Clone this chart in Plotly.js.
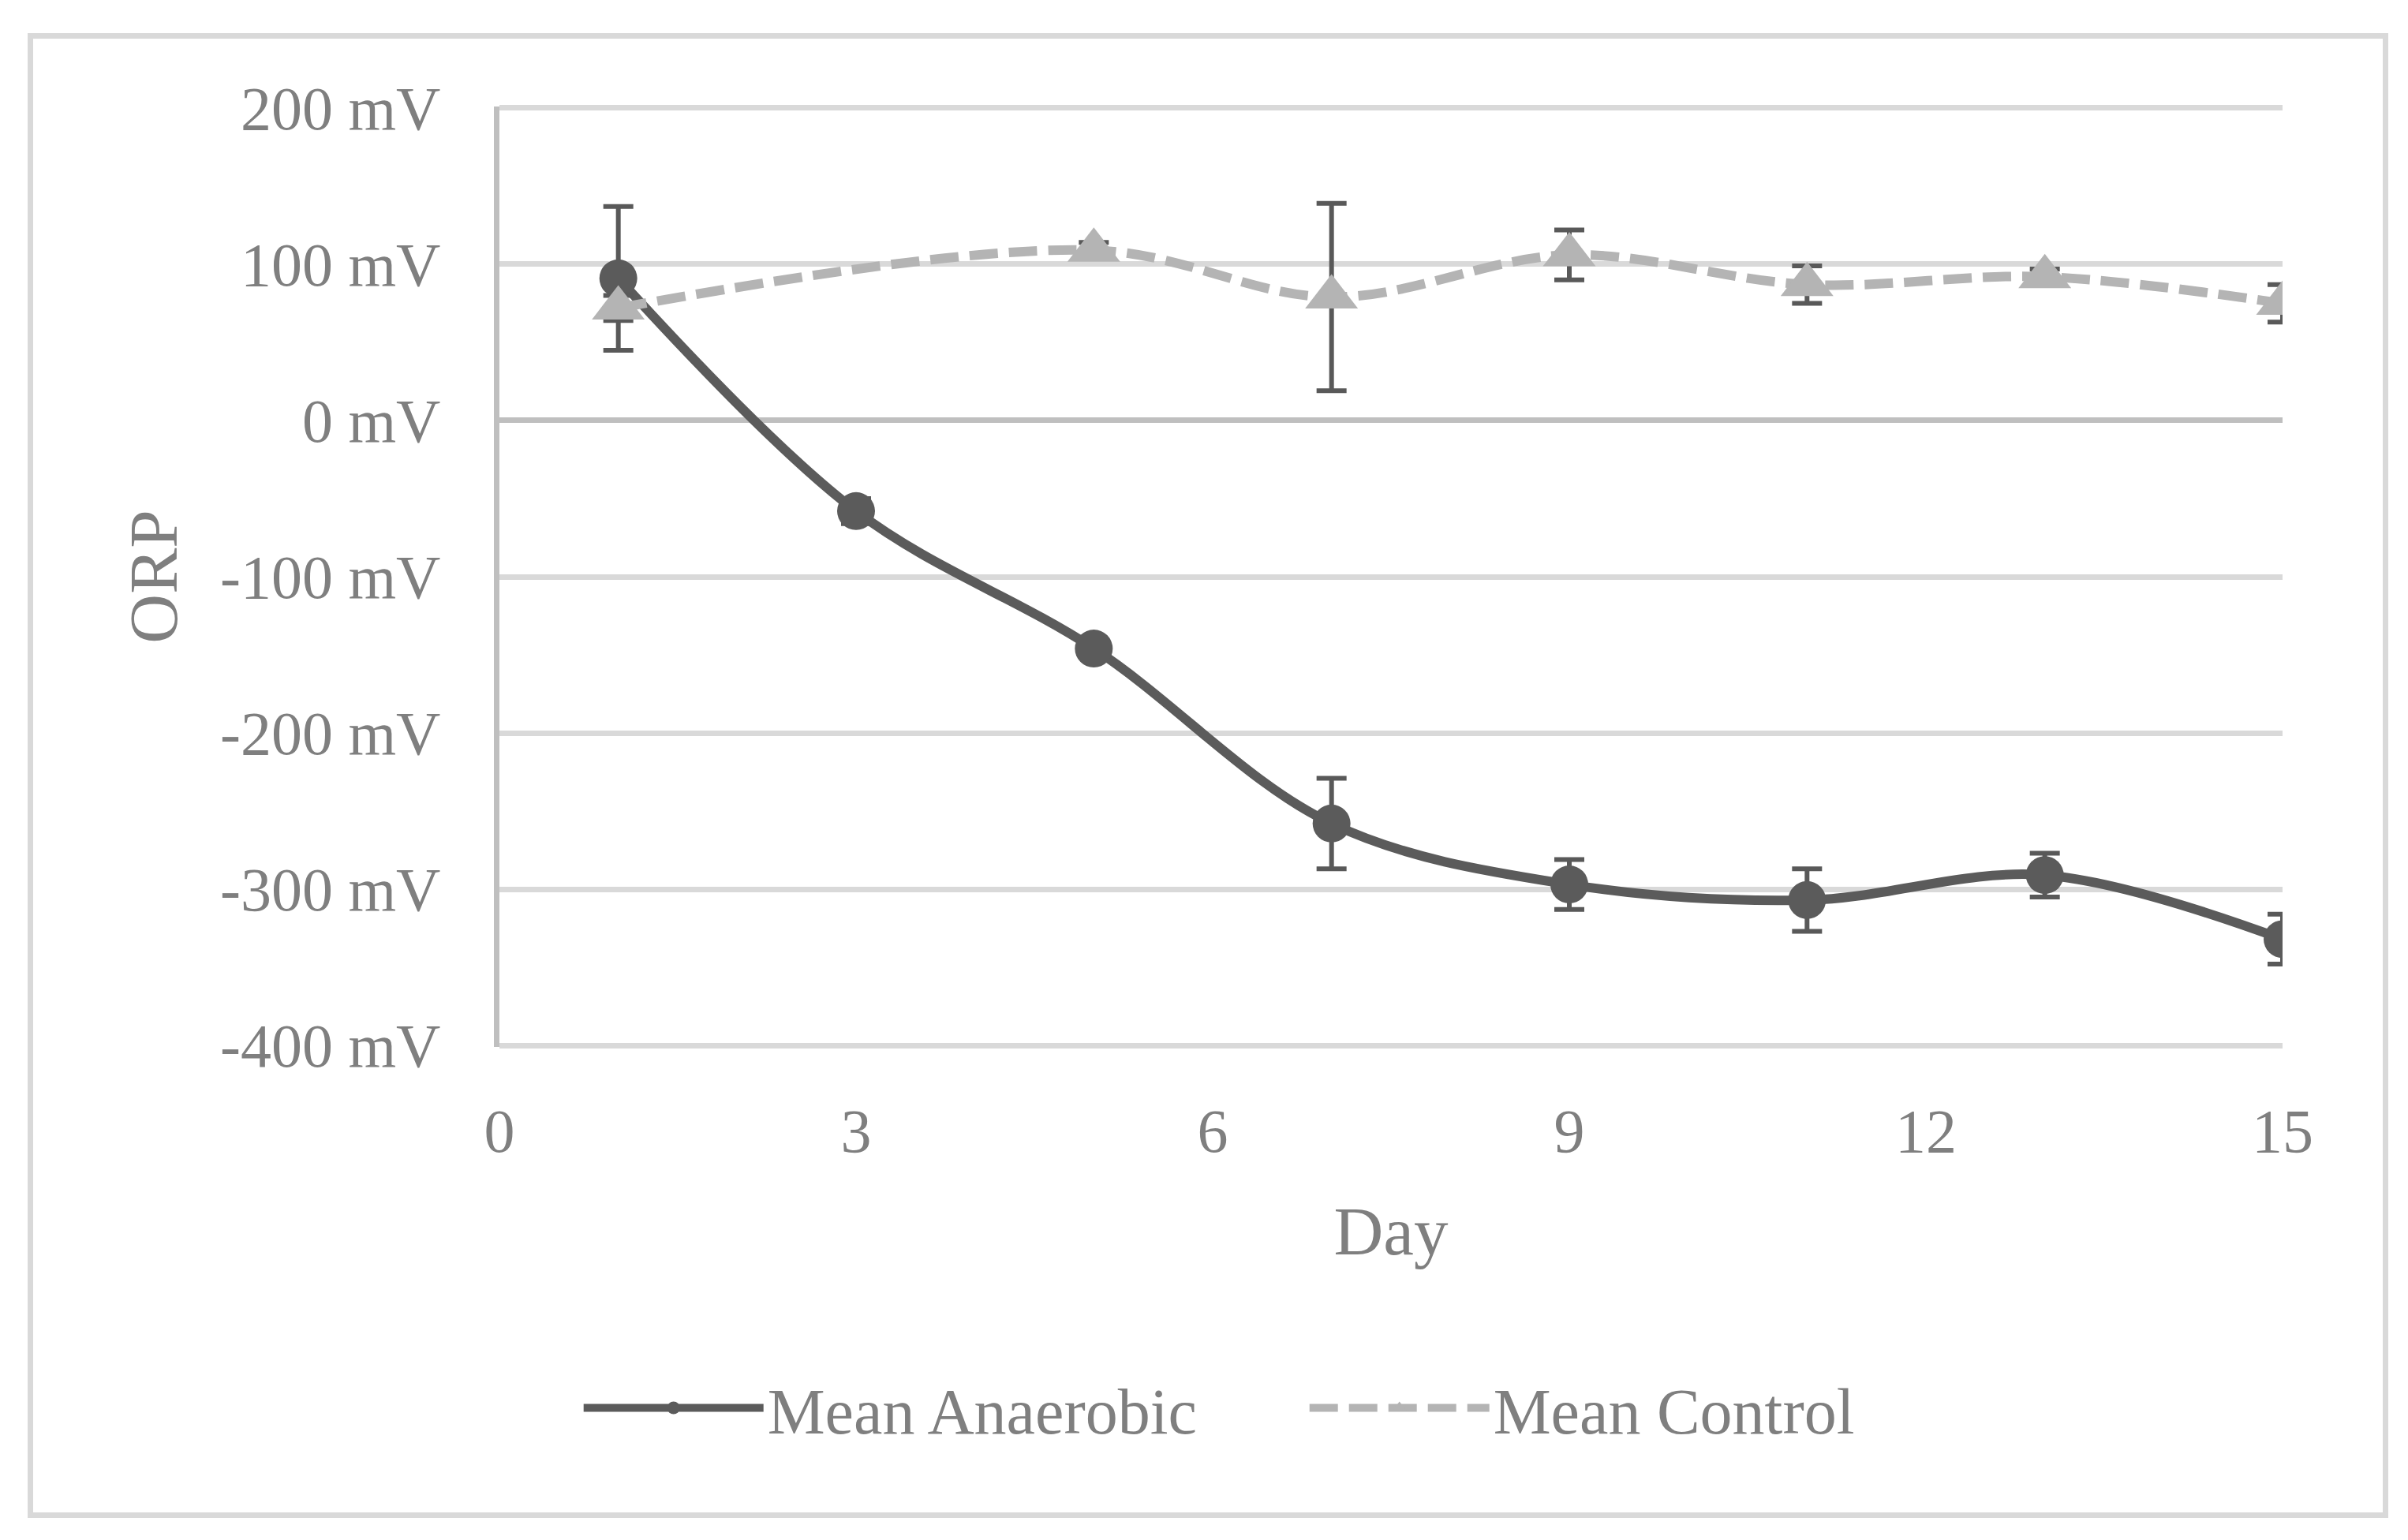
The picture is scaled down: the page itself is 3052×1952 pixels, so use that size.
<!DOCTYPE html>
<html><head><meta charset="utf-8">
<script src="https://cdn.plot.ly/plotly-3.0.1.min.js"></script>
<style>
html,body{margin:0;padding:0;background:#fff;}
#chart{width:3052px;height:1952px;position:absolute;left:0;top:0;}
#frame{position:absolute;left:35px;top:42px;width:2978px;height:1868px;border:7px solid #d9d9d9;pointer-events:none;}
</style></head><body>
<div id="chart"></div><div id="frame"></div>
<script>
// Data
const daysAnaerobic = [1, 3, 5, 7, 9, 11, 13, 15];
const meanAnaerobic = [91, -58, -146, -258, -297, -307, -291, -332];
const errAnaerobic  = [46, 8, 5, 29, 16, 20, 14, 16];

const daysControl = [1, 5, 7, 9, 11, 13, 15];
const meanControl = [72, 109, 79, 106, 87, 92, 75];
const errControl  = [8, 5, 60, 16, 12, 5, 12];

const yTickVals = [-400, -300, -200, -100, 0, 100, 200];
const yTickText = ["-400 mV", "-300 mV", "-200 mV", "-100 mV", "0 mV", "100 mV", "200 mV"];
const xTickVals = [0, 3, 6, 9, 12, 15];

const FONT = "Liberation Serif, Times New Roman, serif";
const TXT = "#7f7f7f";

const traces = [
  {
    x: daysAnaerobic, y: meanAnaerobic, name: "Mean Anaerobic",
    type: "scatter", mode: "lines+markers",
    line: {color: "#5b5b5b", width: 12, shape: "spline", smoothing: 1},
    marker: {symbol: "circle", size: 48, color: "#5b5b5b"},
    error_y: {type: "data", array: errAnaerobic, visible: true, color: "#595959", thickness: 6, width: 19}
  },
  {
    x: daysControl, y: meanControl, name: "Mean Control",
    type: "scatter", mode: "lines+markers",
    line: {color: "#b4b4b4", width: 12, shape: "spline", smoothing: 1, dash: "36px,14px"},
    marker: {symbol: "triangle-up", size: 58, color: "#b4b4b4"},
    error_y: {type: "data", array: errControl, visible: true, color: "#595959", thickness: 6, width: 19}
  }
];

const layout = {
  width: 3052, height: 1952,
  margin: {l: 633, r: 159, t: 135, b: 625},
  paper_bgcolor: "#fff", plot_bgcolor: "#fff",
  font: {family: FONT, color: TXT, size: 78},
  showlegend: true,
  xaxis: {
    range: [0, 15], tickvals: xTickVals, ticks: "", showgrid: false, zeroline: false,
    showline: false, ticklabelstandoff: 54,
    tickfont: {family: FONT, size: 78, color: TXT},
    title: {text: "Day", font: {family: FONT, size: 87, color: TXT}, standoff: 53}
  },
  yaxis: {
    range: [-401, 201], tickvals: yTickVals, ticktext: yTickText, ticks: "",
    showgrid: true, gridcolor: "#d9d9d9", gridwidth: 7,
    zeroline: true, zerolinecolor: "#bfbfbf", zerolinewidth: 7,
    showline: true, linecolor: "#bfbfbf", linewidth: 7,
    ticklabelstandoff: 52,
    tickfont: {family: FONT, size: 78, color: TXT},
    title: {text: "ORP", font: {family: FONT, size: 87, color: TXT}, standoff: 28}
  },
  legend: {
    orientation: "h", x: 0.045, xanchor: "left", y: -0.384, yanchor: "middle",
    font: {family: FONT, size: 82, color: TXT},
    itemwidth: 228, entrywidth: 677, entrywidthmode: "pixels",
    bgcolor: "rgba(0,0,0,0)"
  }
};

Plotly.newPlot("chart", traces, layout, {staticPlot: true});
</script>
</body></html>
